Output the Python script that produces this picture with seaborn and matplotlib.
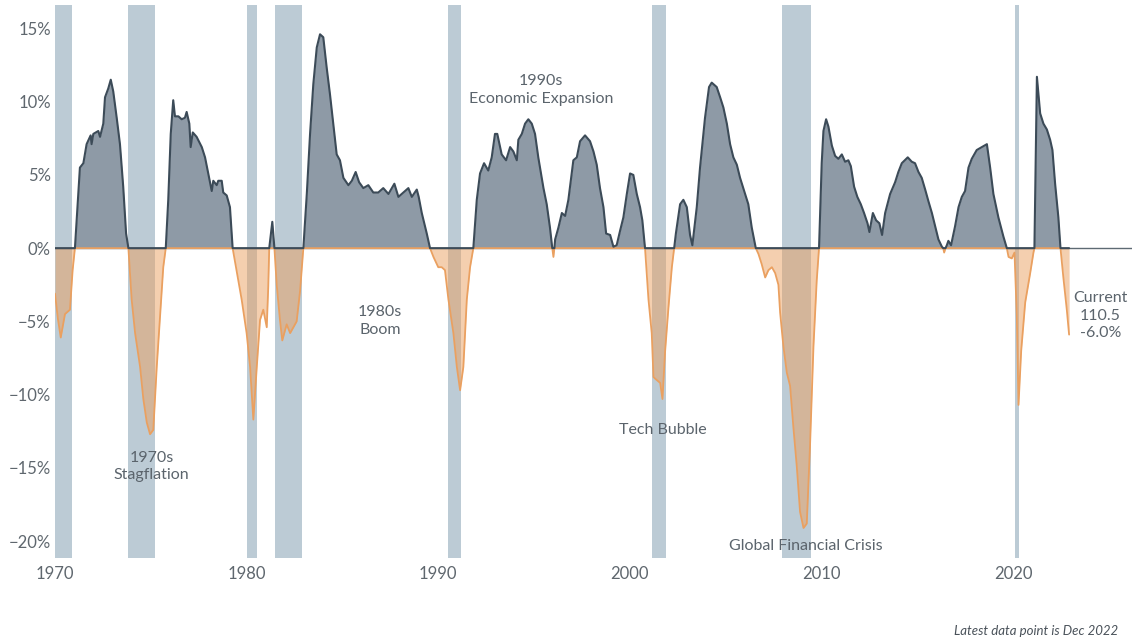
import seaborn as sns
import matplotlib.pyplot as plt
import numpy as np

# Year-over-year change of the index (%)
years = [
    1970.00, 1970.15, 1970.30, 1970.52, 1970.78, 1970.92, 1971.04,
    1971.30, 1971.48, 1971.65, 1971.86, 1971.91, 1972.00, 1972.26, 1972.35, 1972.52,
    1972.61, 1972.78, 1972.91, 1973.04, 1973.22, 1973.39, 1973.56, 1973.71, 1973.83,
    1974.00, 1974.18, 1974.44, 1974.61, 1974.79, 1974.96, 1975.13, 1975.31, 1975.48,
    1975.65, 1975.78,
    1975.91, 1976.04, 1976.17, 1976.26, 1976.44, 1976.61, 1976.78, 1976.87, 1977.01,
    1977.08, 1977.19, 1977.39, 1977.66, 1977.83, 1978.00, 1978.18, 1978.26, 1978.44,
    1978.52, 1978.70, 1978.78, 1978.96, 1979.13, 1979.22, 1979.27,
    1979.74, 1980.00, 1980.18, 1980.35, 1980.53, 1980.70, 1980.87, 1981.05, 1981.13,
    1981.18, 1981.34, 1981.45,
    1981.57, 1981.74, 1981.86, 1982.09, 1982.27, 1982.44, 1982.61, 1982.79, 1982.96,
    1983.14, 1983.31, 1983.48, 1983.66, 1983.83, 1984.00, 1984.18, 1984.35, 1984.52,
    1984.70, 1984.87, 1985.05, 1985.31, 1985.49, 1985.69, 1985.87, 1986.09, 1986.35,
    1986.61, 1986.87, 1987.13, 1987.40, 1987.71, 1987.92, 1988.18, 1988.44, 1988.62,
    1988.88, 1988.98, 1989.14, 1989.40, 1989.57,
    1989.75, 1990.00, 1990.18, 1990.35, 1990.53, 1990.79, 1990.97, 1991.14, 1991.31,
    1991.49, 1991.66, 1991.83,
    1992.01, 1992.18, 1992.39, 1992.61, 1992.79, 1992.96, 1993.08, 1993.31, 1993.54,
    1993.75, 1993.92, 1994.10, 1994.18, 1994.36, 1994.53, 1994.70, 1994.88, 1995.05,
    1995.22, 1995.49, 1995.66, 1995.83, 1995.95, 1996.01, 1996.06,
    1996.10, 1996.27, 1996.45, 1996.62, 1996.79, 1997.05, 1997.23, 1997.40, 1997.66,
    1997.92, 1998.10, 1998.27, 1998.44, 1998.62, 1998.76, 1998.97, 1999.14, 1999.31,
    1999.49, 1999.66, 1999.84, 2000.01, 2000.18, 2000.36, 2000.53, 2000.65, 2000.79,
    2000.88, 2000.97, 2001.14, 2001.23, 2001.40, 2001.58, 2001.70, 2001.84, 2002.01,
    2002.19, 2002.31,
    2002.40, 2002.62, 2002.79, 2002.97, 2003.14, 2003.26, 2003.49, 2003.66, 2003.92,
    2004.13, 2004.27, 2004.53, 2004.71, 2004.88, 2005.06, 2005.23, 2005.40, 2005.58,
    2005.75, 2006.01, 2006.18, 2006.36, 2006.57,
    2006.71, 2006.88, 2007.06, 2007.23, 2007.41, 2007.58, 2007.75, 2007.84, 2008.01,
    2008.19, 2008.36, 2008.53, 2008.71, 2008.88, 2009.06, 2009.23, 2009.40, 2009.58,
    2009.75, 2009.87,
    2010.01, 2010.10, 2010.24, 2010.36, 2010.54, 2010.71, 2010.88, 2011.06, 2011.23,
    2011.40, 2011.53, 2011.70, 2011.87, 2012.05, 2012.22, 2012.40, 2012.50, 2012.68,
    2012.85, 2013.02, 2013.16, 2013.32, 2013.58, 2013.84, 2014.01, 2014.19, 2014.50,
    2014.71, 2014.88, 2015.06, 2015.23, 2015.41, 2015.58, 2015.76, 2015.93, 2016.10,
    2016.28, 2016.35, 2016.40, 2016.47, 2016.54, 2016.62, 2016.76, 2016.97, 2017.15,
    2017.32, 2017.49, 2017.67, 2017.84, 2018.10, 2018.37, 2018.63, 2018.80, 2018.97,
    2019.23, 2019.49, 2019.67,
    2019.76, 2019.93, 2020.07, 2020.19, 2020.28, 2020.42, 2020.63, 2020.89, 2021.06,
    2021.11, 2021.24, 2021.41, 2021.58, 2021.76, 2021.93, 2022.05, 2022.19, 2022.36,
    2022.47, 2022.62, 2022.80, 2022.92,
]
yoy = [
    -3.1, -4.8, -6.1, -4.5, -4.2, -1.5, 0.0,
    5.5, 5.8, 7.1, 7.7, 7.1, 7.8, 8.0, 7.6, 8.5,
    10.3, 10.9, 11.5, 10.7, 8.9, 7.1, 4.2, 1.0, 0.0,
    -3.5, -5.8, -8.1, -10.3, -11.9, -12.7, -12.4, -8.1, -4.7,
    -1.3, 0.0,
    3.3, 7.8, 10.1, 9.0, 9.0, 8.8, 8.9, 9.3, 8.5,
    6.9, 7.9, 7.6, 6.9, 6.2, 5.1, 3.9, 4.6, 4.3,
    4.6, 4.6, 3.8, 3.6, 2.8, 1.0, 0.0,
    -3.5, -5.8, -8.1, -11.7, -8.1, -4.9, -4.2, -5.4, -2.6,
    0.0, 1.8, 0.0,
    -2.5, -4.9, -6.3, -5.2, -5.8, -5.4, -5.0, -2.9, 0.0,
    3.7, 7.8, 11.2, 13.7, 14.6, 14.4, 12.3, 10.5, 8.5,
    6.4, 6.0, 4.8, 4.3, 4.6, 5.2, 4.5, 4.1, 4.3,
    3.8, 3.8, 4.1, 3.7, 4.4, 3.5, 3.8, 4.1, 3.5,
    4.0, 3.5, 2.4, 1.0, 0.0,
    -0.6, -1.3, -1.3, -1.5, -3.5, -5.8, -8.1, -9.7, -8.1,
    -3.5, -1.3, 0.0,
    3.3, 5.1, 5.8, 5.3, 6.2, 7.8, 7.8, 6.4, 6.0,
    6.9, 6.6, 6.0, 7.4, 7.8, 8.5, 8.8, 8.5, 7.8,
    6.2, 4.1, 3.0, 1.4, 0.0, -0.6, 0.0,
    0.6, 1.4, 2.4, 2.2, 3.3, 6.0, 6.2, 7.3, 7.7,
    7.3, 6.6, 5.7, 4.1, 2.8, 1.0, 0.9, 0.1, 0.2,
    1.2, 2.1, 3.7, 5.1, 5.0, 3.7, 2.8, 1.9, 0.0,
    -1.7, -3.5, -5.8, -8.8, -9.0, -9.2, -10.3, -7.0, -4.1,
    -1.3, 0.0,
    1.0, 3.0, 3.3, 2.8, 0.9, 0.2, 2.8, 5.5, 8.9,
    11.0, 11.3, 11.0, 10.3, 9.6, 8.5, 7.1, 6.2, 5.7,
    4.8, 3.7, 3.0, 1.4, 0.0,
    -0.4, -1.1, -2.0, -1.5, -1.3, -1.7, -2.5, -4.4, -6.7,
    -8.5, -9.4, -12.2, -14.9, -18.0, -19.1, -18.8, -13.5, -6.7,
    -2.2, 0.0,
    5.8, 8.0, 8.8, 8.3, 7.0, 6.3, 6.1, 6.4, 5.9,
    6.0, 5.6, 4.2, 3.5, 3.0, 2.4, 1.7, 1.1, 2.4,
    1.9, 1.7, 0.9, 2.4, 3.7, 4.5, 5.2, 5.8, 6.2,
    5.9, 5.8, 5.2, 4.8, 4.0, 3.2, 2.4, 1.5, 0.6,
    0.1, 0.0, -0.3, 0.0, 0.2, 0.5, 0.2, 1.5, 2.8,
    3.5, 3.9, 5.5, 6.1, 6.7, 6.9, 7.1, 5.5, 3.7,
    2.1, 0.8, 0.0,
    -0.6, -0.7, -0.3, -4.6, -10.7, -7.0, -3.7, -1.7, -0.3,
    0.0, 11.7, 9.2, 8.5, 8.1, 7.4, 6.7, 4.4, 2.1,
    0.0, -2.0, -4.2, -5.9,
]

# NBER recessions (start, end)
rec_start = [1969.92, 1973.83, 1980.00, 1981.50, 1990.50, 2001.17, 2007.92, 2020.08]
rec_end = [1970.88, 1975.21, 1980.54, 1982.88, 1991.21, 2001.88, 2009.46, 2020.29]

notes = ["1970s\nStagflation", "1980s\nBoom", "1990s\nEconomic Expansion",
         "Tech Bubble", "Global Financial Crisis", "Current\n110.5\n-6.0%"]
note_x = [1975.05, 1986.95, 1995.35, 2001.7, 2009.2, 2024.55]
note_y = [-14.9, -5.0, 10.8, -12.4, -20.3, -4.6]

sns.set_theme(style="white")
plt.rcParams['font.family'] = ['Lato', 'DejaVu Sans']

dark = "#3c4b58"
slate = "#8e9aa6"
orange = "#eaa060"
band = "#bccbd5"
txt = "#5b646c"

x = np.array(years)
v = np.array(yoy)
pos = np.clip(v, 0, None)
neg = np.clip(v, None, 0)

fig = plt.figure(figsize=(11.34, 6.41), dpi=100)
ax = fig.add_axes([0.0485, 0.1295, 0.9497, 0.8627])

for s, e in zip(rec_start, rec_end):
    ax.axvspan(s, e, color=band, lw=0, zorder=0)

ax.axhline(0, color="#5d6a73", lw=1.0, zorder=1)
ax.fill_between(x, 0, pos, color=slate, lw=0, zorder=2)
ax.fill_between(x, 0, neg, color=orange, alpha=0.5, lw=0, zorder=2)
sns.lineplot(x=x, y=neg, color=orange, lw=1.3, estimator=None, sort=False, ax=ax, zorder=3)
sns.lineplot(x=x, y=pos, color=dark, lw=1.5, estimator=None, sort=False, ax=ax, zorder=4)

for t, tx, ty in zip(notes, note_x, note_y):
    ax.text(tx, ty, t, ha="center", va="center", fontsize=11.5, color=txt,
            linespacing=1.35, zorder=5)

ax.set_xlim(1970, 2026.2)
ax.set_ylim(-21.15, 16.6)
ax.set_xticks([1970, 1980, 1990, 2000, 2010, 2020])
ax.set_xticklabels(["1970", "1980", "1990", "2000", "2010", "2020"])
yt = [-20, -15, -10, -5, 0, 5, 10, 15]
ax.set_yticks(yt)
ax.set_yticklabels([("\u2212" if t < 0 else "") + f"{abs(t)}%" for t in yt])
ax.tick_params(axis="both", length=0, labelsize=12, labelcolor="#5f676e")
ax.tick_params(axis="y", pad=3)
ax.tick_params(axis="x", pad=6)
ax.set_xlabel("")
ax.set_ylabel("")
for sp in ax.spines.values():
    sp.set_visible(False)
ax.grid(False)

fig.text(1118 / 1134, 1 - 631 / 641, "Latest data point is Dec 2022", ha="right", va="center",
         fontsize=9.5, style="italic", color="#4a525a")

fig.savefig("out.png", dpi=100)
